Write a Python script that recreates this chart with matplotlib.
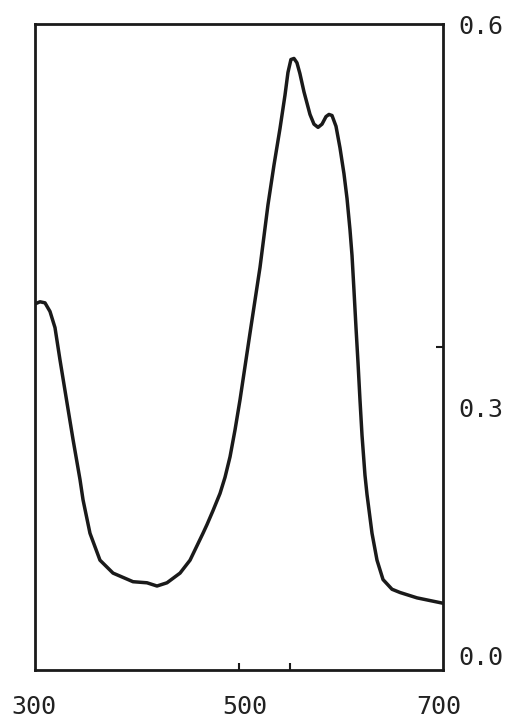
import matplotlib
matplotlib.use("Agg")
import matplotlib.pyplot as plt

wavelength = [300.0, 304.9, 309.8, 314.7, 319.6, 324.5, 331.4, 337.3, 344.1, 347.1,
              353.9, 363.7, 376.5, 396.1, 409.8, 419.6, 429.4, 442.2, 452.0, 464.7,
              468.6, 474.5, 481.4, 486.3, 491.2, 496.1, 501.0, 510.8, 520.6, 528.4,
              534.3, 540.2, 545.1, 548.0, 550.9, 553.9, 556.8, 559.7, 563.7, 569.6,
              573.5, 577.5, 581.4, 585.3, 588.2, 591.2, 595.1, 599.0, 602.9, 605.9,
              608.8, 610.8, 612.7, 614.7, 616.7, 618.6, 620.6, 623.5, 625.5, 630.4,
              635.3, 641.2, 650.0, 657.8, 674.5, 700.0]
absorbance = [0.340, 0.342, 0.341, 0.333, 0.318, 0.288, 0.248, 0.214, 0.177, 0.158,
              0.127, 0.102, 0.090, 0.082, 0.081, 0.078, 0.081, 0.090, 0.102, 0.127,
              0.135, 0.148, 0.164, 0.179, 0.198, 0.223, 0.251, 0.313, 0.374, 0.432,
              0.469, 0.503, 0.534, 0.555, 0.567, 0.568, 0.564, 0.554, 0.537, 0.516,
              0.507, 0.504, 0.507, 0.514, 0.516, 0.515, 0.505, 0.485, 0.461, 0.438,
              0.409, 0.385, 0.353, 0.318, 0.285, 0.251, 0.218, 0.181, 0.163, 0.127,
              0.102, 0.084, 0.075, 0.072, 0.067, 0.062]

x_ticklabels = ["300", "500", "700"]
x_tickvalues = [300, 500, 700]
y_ticklabels = ["0.0", "0.3", "0.6"]
y_tickvalues = [0.0, 0.3, 0.6]

fig = plt.figure(figsize=(5.12, 7.22), dpi=100)
ax = fig.add_axes([35/512, 1 - 670/722, 408/512, 646/722])
ax.plot(wavelength, absorbance, color="#1a1a1a", lw=2.5,
        solid_capstyle="round", solid_joinstyle="round")
ax.set_xlim(300, 700)
ax.set_ylim(0, 0.6)
for s in ax.spines.values():
    s.set_linewidth(2.0)
    s.set_color("#1a1a1a")

ax.set_xticks([500, 550])
ax.set_xticklabels([])
ax.yaxis.tick_right()
ax.set_yticks([0.3])
ax.set_yticklabels([])
ax.tick_params(axis="both", direction="in", length=5, width=1.5, color="#1a1a1a")
ax.tick_params(axis="y", left=False, right=True)

font = dict(family="DejaVu Sans Mono", fontsize=18, color="#222222")
x_off = [-1, 6, -4]
for v, lab, dx in zip(x_tickvalues, x_ticklabels, x_off):
    ax.annotate(lab, xy=(v, 0), xycoords=("data", "axes fraction"),
                xytext=(dx, -37), textcoords="offset pixels",
                ha="center", va="center", **font)
y_off = [12, -63, -3]
for v, lab, dy in zip(y_tickvalues, y_ticklabels, y_off):
    ax.annotate(lab, xy=(1, v), xycoords=("axes fraction", "data"),
                xytext=(15, dy), textcoords="offset pixels",
                ha="left", va="center", annotation_clip=False, **font)

fig.savefig("out.png", dpi=100)
